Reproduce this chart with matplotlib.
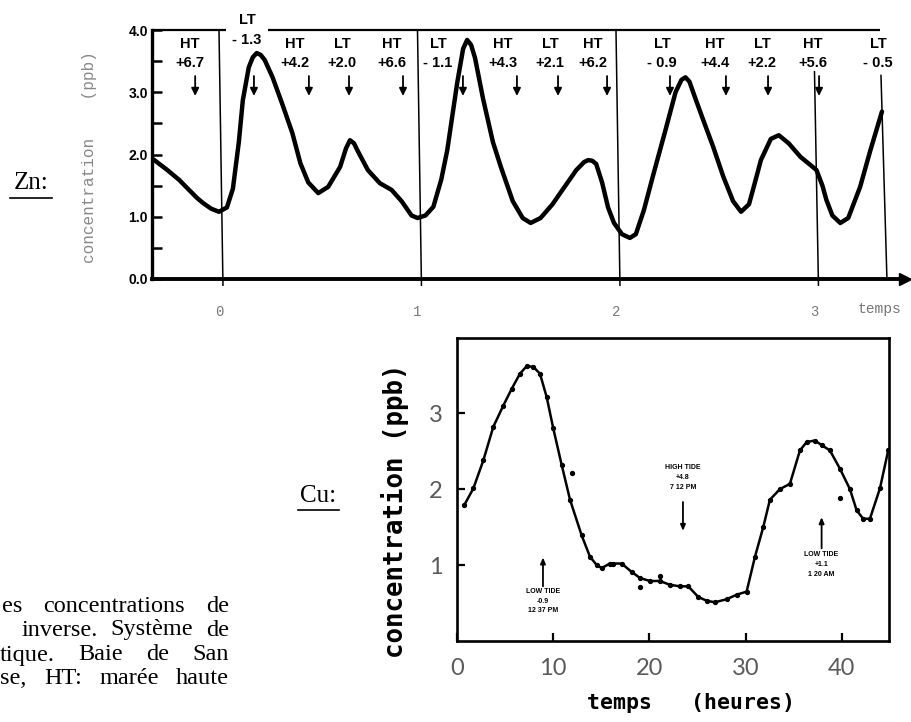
import matplotlib
matplotlib.use('Agg')
import matplotlib.pyplot as plt
from matplotlib.lines import Line2D
from matplotlib.transforms import IdentityTransform

# ---------------- Zn data (time in days) ----------------
zn_time = [-0.33, -0.26, -0.20, -0.16, -0.11, -0.08, -0.04, 0.00, 0.04, 0.07, 0.10, 0.12,
           0.15, 0.17, 0.19, 0.21, 0.23, 0.27, 0.32, 0.37, 0.41, 0.45, 0.50, 0.55, 0.61,
           0.64, 0.66, 0.68, 0.70, 0.75, 0.81, 0.87, 0.92, 0.97, 1.00, 1.04, 1.08, 1.12,
           1.15, 1.20, 1.23, 1.25, 1.27, 1.29, 1.33, 1.38, 1.42, 1.48, 1.53, 1.57, 1.62,
           1.68, 1.73, 1.80, 1.84, 1.86, 1.88, 1.90, 1.93, 1.96, 1.99, 2.03, 2.07, 2.10,
           2.14, 2.19, 2.25, 2.30, 2.33, 2.35, 2.37, 2.40, 2.44, 2.49, 2.54, 2.59, 2.63,
           2.67, 2.70, 2.73, 2.78, 2.82, 2.87, 2.93, 2.98, 3.01, 3.04, 3.06, 3.09, 3.13,
           3.17, 3.23, 3.28, 3.34]
zn_conc = [1.92, 1.75, 1.59, 1.46, 1.30, 1.22, 1.13, 1.08, 1.15, 1.45, 2.20, 2.87,
           3.40, 3.56, 3.63, 3.60, 3.52, 3.24, 2.80, 2.34, 1.86, 1.55, 1.38, 1.48, 1.80,
           2.10, 2.23, 2.18, 2.05, 1.75, 1.54, 1.43, 1.25, 1.02, 0.98, 1.02, 1.16, 1.60,
           2.07, 3.15, 3.70, 3.84, 3.76, 3.55, 2.90, 2.20, 1.80, 1.25, 0.98, 0.90, 0.98,
           1.20, 1.43, 1.75, 1.88, 1.91, 1.90, 1.85, 1.55, 1.15, 0.90, 0.72, 0.66, 0.72,
           1.10, 1.70, 2.40, 3.00, 3.20, 3.24, 3.17, 2.90, 2.55, 2.12, 1.65, 1.25, 1.08,
           1.20, 1.55, 1.91, 2.25, 2.31, 2.18, 1.96, 1.83, 1.75, 1.50, 1.27, 1.02, 0.90,
           0.98, 1.48, 2.05, 2.69]

zn_tide_kind = ['HT', 'LT', 'HT', 'LT', 'HT', 'LT', 'HT', 'LT', 'HT', 'LT', 'HT', 'LT', 'HT', 'LT']
zn_tide_height = ['+6.7', '- 1.3', '+4.2', '+2.0', '+6.6', '- 1.1', '+4.3', '+2.1', '+6.2',
                  '- 0.9', '+4.4', '+2.2', '+5.6', '- 0.5']
zn_tide_text_x = [-0.146, 0.141, 0.383, 0.62, 0.872, 1.103, 1.431, 1.668, 1.884, 2.232,
                  2.499, 2.735, 2.992, 3.32]
zn_tide_arrow_x = [-0.12, 0.176, 0.453, 0.655, 0.927, 1.229, 1.501, 1.708, 1.955, 2.272,
                   2.554, 2.766, 3.023, None]
zn_day_ticks = [0, 1, 2, 3]
zn_day_labels = ['0', '1', '2', '3']
zn_yticks = [0, 1, 2, 3, 4]
zn_ytick_labels = ['0.0', '1.0', '2.0', '3.0', '4.0']
zn_end_time = 3.355

# ---------------- Cu data (time in hours) ----------------
cu_time = [0.79, 1.73, 2.77, 3.8, 4.84, 5.71, 6.57, 7.27, 7.96, 8.65, 9.35, 10.03, 10.9,
           11.77, 12.98, 13.84, 14.54, 15.06, 15.9, 16.26, 17.13, 18.17, 19.03, 20.07,
           21.1, 22.15, 23.19, 24.05, 25.09, 25.96, 26.82, 28.04, 29.08, 30.11, 30.98,
           31.84, 32.53, 33.57, 34.61, 35.65, 36.35, 37.2, 37.9, 38.76, 39.8, 40.84,
           41.54, 42.22, 42.92, 43.96, 44.82]
cu_conc = [1.79, 2.01, 2.38, 2.82, 3.10, 3.32, 3.52, 3.62, 3.61, 3.52, 3.21, 2.80, 2.32,
           1.86, 1.39, 1.11, 1.00, 0.96, 1.02, 1.02, 1.02, 0.91, 0.83, 0.79,
           0.79, 0.74, 0.72, 0.72, 0.58, 0.53, 0.51, 0.55, 0.61, 0.65, 1.11,
           1.50, 1.86, 2.00, 2.07, 2.51, 2.62, 2.64, 2.58, 2.51, 2.27, 2.00,
           1.72, 1.61, 1.61, 2.01, 2.51]
cu_out_time = [11.94, 19.03, 21.1, 39.8]
cu_out_conc = [2.21, 0.71, 0.85, 1.88]

cu_tide_text = ['LOW TIDE\n-0.9\n12 37 PM', 'HIGH TIDE\n+4.8\n7 12 PM', 'LOW TIDE\n+1.1\n1 20 AM']
cu_tide_time = [8.96, 23.5, 37.9]
cu_xticks = [0, 10, 20, 30, 40]
cu_yticks = [1, 2, 3]

caption_lines = ['es concentrations de', 'inverse. Système de',
                 'tique. Baie de San', 'se, HT: marée haute']

W, H = 912, 722
fig = plt.figure(figsize=(W / 100, H / 100), dpi=100)
fig.patch.set_facecolor('white')

def fx(px):
    return px / W

def fy(py):
    return 1 - py / H

# ================= Zn panel =================
ax = fig.add_axes([fx(152), fy(279), fx(905) - fx(152), fy(30) - fy(279)])
ax.set_xlim(-0.3375, 3.456)
ax.set_ylim(0, 4.0)
for s in ['top', 'right']:
    ax.spines[s].set_visible(False)
ax.spines['left'].set_linewidth(2.4)
ax.spines['bottom'].set_linewidth(2.8)
ax.plot(1, 0, '>', color='k', ms=9, transform=ax.transAxes, clip_on=False)

# top frame line with a gap for the label
ax.plot([-0.3375, 0.035], [4.0, 4.0], color='k', lw=1.6, clip_on=False, solid_capstyle='butt')
ax.plot([0.247, 3.33], [4.0, 4.0], color='k', lw=1.6, clip_on=False, solid_capstyle='butt')

# day separators
for d in zn_day_ticks:
    top = 4.0 if d < 3 else 3.33
    ax.plot([d, d + 0.02], [top, -0.1], color='k', lw=1.1, clip_on=False)
ax.plot([zn_end_time - 0.02, zn_end_time + 0.01], [3.27, 0.0], color='k', lw=1.1, clip_on=False)

ax.plot(zn_time, zn_conc, color='k', lw=3.2, solid_capstyle='round', solid_joinstyle='round')

for kind, hgt, tx, axx in zip(zn_tide_kind, zn_tide_height, zn_tide_text_x, zn_tide_arrow_x):
    if hgt == '- 1.3':
        y1, y2 = 4.16, 3.84
    else:
        y1, y2 = 3.78, 3.47
    ax.text(tx, y1, kind, ha='center', va='center', fontsize=10.5, fontweight='bold',
            family='Liberation Sans', clip_on=False)
    ax.text(tx, y2, hgt, ha='center', va='center', fontsize=10.5, fontweight='bold',
            family='Liberation Sans', clip_on=False)
    if axx is not None:
        ax.annotate('', xy=(axx, 2.94), xytext=(axx, 3.26),
                    arrowprops=dict(arrowstyle='-|>,head_width=0.22,head_length=0.45',
                                    lw=1.3, color='k', shrinkA=0, shrinkB=0))

ax.set_yticks(zn_yticks)
ax.set_yticklabels(zn_ytick_labels, fontsize=10, fontweight='bold', family='Liberation Sans')
ax.set_yticks([0.5, 1.5, 2.5, 3.5], minor=True)
ax.tick_params(axis='y', which='both', direction='in', length=7, width=1.8, pad=3)
ax.set_xticks(zn_day_ticks)
ax.set_xticklabels(zn_day_labels, fontsize=10, family='Liberation Mono', color='#777777')
ax.tick_params(axis='x', which='both', length=0, pad=19)
ax.set_xlabel('temps', fontsize=10.5, family='Liberation Mono', color='#777777', va='center')
ax.xaxis.set_label_coords((880 - 152) / (905 - 152), -0.12)
ax.set_ylabel('concentration    (ppb)', fontsize=11.5, family='Liberation Mono',
              color='#888888', va='center')
ax.yaxis.set_label_coords((90 - 152) / (905 - 152), 0.49)

# ================= Cu panel =================
bx = fig.add_axes([fx(456.7), fy(641), fx(889) - fx(456.7), fy(338) - fy(641)])
bx.set_xlim(0, 44.9)
bx.set_ylim(0, 3.99)
for s in bx.spines.values():
    s.set_linewidth(1.9)
bx.plot(cu_time, cu_conc, color='k', lw=1.8, marker='o', ms=2.8, solid_joinstyle='round')
bx.plot(cu_out_time, cu_out_conc, 'o', color='k', ms=2.8, lw=0)

bx.set_xticks(cu_xticks)
bx.set_xticklabels([str(v) for v in cu_xticks], fontsize=17, family='Lato',
                   fontweight='normal', color='#5a5a5a')
bx.set_yticks(cu_yticks)
bx.set_yticklabels([str(v) for v in cu_yticks], fontsize=17, family='Lato',
                   fontweight='normal', color='#5a5a5a')
bx.tick_params(axis='x', direction='in', length=6, width=1.6, pad=12)
bx.tick_params(axis='y', direction='in', length=6, width=1.6, pad=10)
bx.set_ylabel('concentration (ppb)', fontsize=18.5, family='DejaVu Sans Mono',
              fontweight='bold', va='center')
bx.yaxis.set_label_coords((395 - 456.7) / (889 - 456.7), 0.43)
bx.set_xlabel('temps   (heures)', fontsize=15.5, family='DejaVu Sans Mono',
              fontweight='bold', va='center')
bx.xaxis.set_label_coords((691 - 456.7) / (889 - 456.7), -0.205)

# tide annotations
txt_kw = dict(ha='center', va='top', fontsize=5, fontweight='bold', family='Liberation Sans',
              linespacing=1.55)
arr_kw = dict(arrowstyle='-|>,head_width=0.15,head_length=0.35', lw=1.3, color='k',
              shrinkA=0, shrinkB=0)
bx.text(cu_tide_time[0], 0.70, cu_tide_text[0], **txt_kw)
bx.annotate('', xy=(cu_tide_time[0], 1.10), xytext=(cu_tide_time[0], 0.72), arrowprops=arr_kw)
bx.text(cu_tide_time[1], 2.33, cu_tide_text[1], **txt_kw)
bx.annotate('', xy=(cu_tide_time[1], 1.45), xytext=(cu_tide_time[1], 1.83), arrowprops=arr_kw)
bx.text(cu_tide_time[2], 1.18, cu_tide_text[2], **txt_kw)
bx.annotate('', xy=(cu_tide_time[2], 1.63), xytext=(cu_tide_time[2], 1.22), arrowprops=arr_kw)

# ================= panel labels =================
fig.text(fx(31), fy(183), 'Zn:', fontsize=18, family='Liberation Serif', ha='center', va='center')
fig.add_artist(Line2D([fx(10), fx(52)], [fy(198), fy(198)], color='k', lw=1.2))
fig.text(fx(318), fy(496), 'Cu:', fontsize=18, family='Liberation Serif', ha='center', va='center')
fig.add_artist(Line2D([fx(298), fx(339)], [fy(510), fy(510)], color='k', lw=1.2))

# ================= caption (justified) =================
fig.canvas.draw()
renderer = fig.canvas.get_renderer()
line_left = [2, 22, 0, 0]
line_y = [606, 630, 655, 679]
right_edge = 229
for text, x0, yy in zip(caption_lines, line_left, line_y):
    words = text.split(' ')
    arts = [fig.text(0, 0, w, fontsize=17.5, family='Liberation Serif', va='center',
                     ha='left', transform=IdentityTransform()) for w in words]
    widths = [a.get_window_extent(renderer).width for a in arts]
    gap = (right_edge - x0 - sum(widths)) / (len(words) - 1)
    xpos = x0
    for a, wdt in zip(arts, widths):
        a.set_position((xpos, H - yy))
        xpos += wdt + gap

fig.savefig('out.png', dpi=100, facecolor='white')
